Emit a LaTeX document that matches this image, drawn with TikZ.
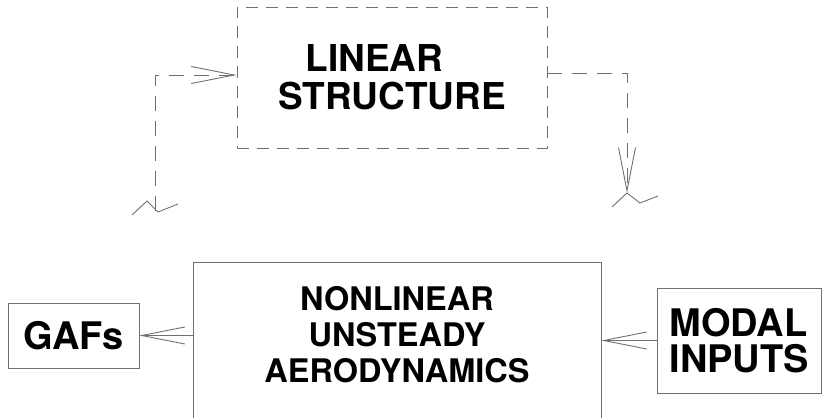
\documentclass[tikz,border=0pt]{standalone}
\usepackage{fontspec}
\setmainfont{TeX Gyre Heros}
\usetikzlibrary{arrows.meta, positioning, calc}
\definecolor{linegray}{RGB}{112,112,112}

\begin{document}
\begin{tikzpicture}[x=1pt, y=-1pt,
    box/.style={draw=linegray, line width=0.9pt, inner sep=0pt, align=center},
    barb/.style={-{Straight Barb[length=43pt, width=17pt]}, draw=linegray, line width=0.9pt}]
    \useasboundingbox (0,0) rectangle (823,418);
    \clip (0,0) rectangle (823,418);
    \node[box, dash pattern=on 12pt off 8pt, minimum width=310pt, minimum height=141pt, font=\fontsize{37}{38}\selectfont\bfseries] (linear) at (392,77.5) {LINEAR\hspace*{35pt}\\STRUCTURE};
    \node[box, minimum width=408pt, minimum height=200pt, anchor=north] (aero) at (397,262) {};
    \node[align=center, font=\fontsize{32.5}{36}\selectfont\bfseries] (aerotext) at ($(aero.north)+(0,73)$) {NONLINEAR\\UNSTEADY\\AERODYNAMICS};
    \node[box, minimum width=131pt, minimum height=65pt, font=\fontsize{38}{38}\selectfont\bfseries] (gafs) at (73.5,335.5) {GAFs};
    \node[box, align=left, inner xsep=12pt, minimum height=105pt, anchor=west, font=\fontsize{38}{36.7}\selectfont\bfseries] (modal) at (657,340.5) {MODAL\\INPUTS};
    \coordinate (lbend) at (155,75);
    \coordinate (lfoot) at (155,211);
    \coordinate (rbend) at (627,73);
    \coordinate (rtip) at (627,193);
    \draw[barb, dash pattern=on 15pt off 10pt] (lfoot) -- (lbend) -- (lbend -| linear.west);
    \draw[barb, dash pattern=on 15pt off 10pt] (rbend -| linear.east) -- (rbend) -- (rtip);
    \draw[barb] (aero.west |- gafs) -- (gafs.east);
    \draw[barb] (modal.west) -- (modal.west -| aero.east);
    \draw[linegray, line width=0.9pt] (132,215) -- (147,201) -- (158,212) -- (178,204);
    \draw[linegray, line width=0.9pt] (612,207) -- (rtip) -- (640,203) -- (658,196);
\end{tikzpicture}
\end{document}
